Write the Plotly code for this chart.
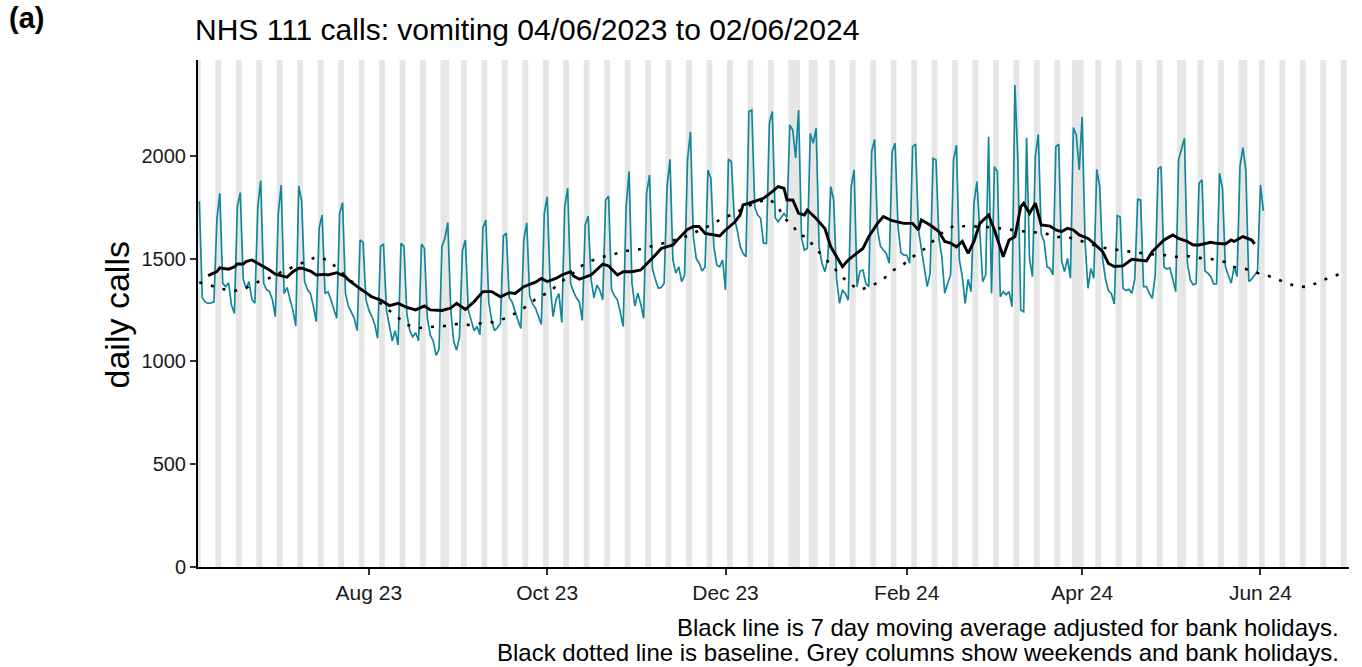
import plotly.graph_objects as go
import pandas as pd

start_date = "2023-06-04"

# Daily NHS 111 vomiting calls (first value Sun 04/06/2023, then rows Mon..Sun)
daily_calls = [1780,
    1310, 1290, 1283, 1285, 1290, 1690, 1818,
    1380, 1364, 1383, 1275, 1234, 1753, 1822,
    1400, 1356, 1389, 1300, 1283, 1753, 1880,
    1380, 1350, 1340, 1300, 1218, 1720, 1859,
    1330, 1360, 1300, 1250, 1173, 1854, 1780,
    1390, 1350, 1330, 1270, 1194, 1650, 1713,
    1330, 1340, 1300, 1260, 1210, 1720, 1773,
    1330, 1270, 1240, 1210, 1150, 1591, 1580,
    1300, 1250, 1220, 1180, 1113, 1560, 1572,
    1250, 1180, 1100, 1150, 1080, 1575, 1560,
    1230, 1150, 1120, 1140, 1100, 1572, 1550,
    1210, 1130, 1100, 1030, 1060, 1560, 1600,
    1676, 1250, 1100, 1055, 1120, 1540, 1591,
    1250, 1200, 1150, 1170, 1130, 1650, 1688,
    1290, 1200, 1150, 1165, 1186, 1611, 1624,
    1310, 1290, 1240, 1200, 1161, 1591, 1675,
    1320, 1280, 1260, 1220, 1180, 1721, 1802,
    1380, 1218, 1300, 1330, 1190, 1753, 1843,
    1380, 1340, 1310, 1290, 1200, 1664, 1708,
    1400, 1310, 1372, 1348, 1300, 1786, 1805,
    1350, 1320, 1300, 1240, 1170, 1750, 1924,
    1380, 1270, 1332, 1280, 1210, 1818, 1907,
    1450, 1400, 1356, 1360, 1380, 1851, 1984,
    1494, 1430, 1461, 1388, 1420, 1980, 2118,
    1607, 1500, 1478, 1440, 1460, 1932, 1891,
    1560, 1470, 1461, 1494, 1348, 1984, 1972,
    1700, 1640, 1560, 1526, 1510, 2216, 2224,
    1750, 1713, 1697, 1575, 1575, 2159, 2216,
    1700, 1680, 1700, 1720, 1700, 2151, 2126,
    1990, 2224, 1600, 1542, 1551, 2110, 2062,
    2135, 1560, 1478, 1437, 1500, 1851, 1786,
    1400, 1283, 1348, 1330, 1299, 1851, 1932,
    1364, 1440, 1445, 1380, 1364, 2021, 2081,
    1640, 1560, 1542, 1526, 1478, 2021, 2062,
    1656, 1530, 1518, 1518, 1478, 2045, 2058,
    1640, 1550, 1445, 1364, 1430, 1988, 1980,
    1600, 1510, 1332, 1380, 1421, 1980, 2053,
    1494, 1413, 1283, 1400, 1340, 1770, 1875,
    1600, 1388, 1421, 2094, 1332, 1948, 1924,
    1315, 1340, 1325, 1340, 1267, 2345, 1980,
    1250, 1242, 2089, 1500, 1413, 2000, 2105,
    1620, 1583, 1461, 1453, 1421, 2045, 2057,
    1486, 1437, 1502, 1405, 2138, 2102, 1932,
    2191, 1580, 1356, 1453, 1405, 1935, 1851,
    1500, 1400, 1345, 1330, 1280, 1710, 1703,
    1356, 1345, 1351, 1332, 1400, 1789, 1786,
    1364, 1364, 1332, 1307, 1420, 1937, 1948,
    1460, 1450, 1455, 1400, 1340, 1981, 2030,
    2086, 1478, 1397, 1373, 1380, 1867, 1884,
    1440, 1430, 1413, 1378, 1378, 1916, 1843,
    1462, 1420, 1381, 1462, 1413, 1950, 2040,
    1930, 1389, 1400, 1420, 1440, 1859, 1733,
]

# 7 day moving average (day offset from start, value)
ma_day = [3, 6, 7, 10, 12, 13, 15, 16, 18, 20, 22, 24, 26, 29, 30, 32, 34, 35, 38, 40,
          43, 44, 47, 50, 51, 54, 56, 59, 62, 65, 68, 71, 74, 77, 79, 83, 86, 88, 91, 94,
          97, 100, 103, 106, 108, 111, 115, 117, 119, 122, 124, 127, 128, 130, 134, 138, 140, 143, 145, 148,
          151, 154, 156, 158, 162, 164, 167, 169, 171, 173, 176, 178, 180, 183, 185, 186, 188, 191, 193, 196,
          198, 200, 201, 203, 205, 207, 208, 211, 214, 216, 219, 220, 222, 225, 227, 229, 232, 234, 237, 241,
          244, 246, 247, 250, 253, 255, 257, 259, 261, 263, 265, 267, 270, 272, 274, 275, 277, 279, 281, 282,
          284, 286, 288, 291, 293, 295, 297, 299, 301, 304, 306, 309, 311, 313, 316, 319, 321, 324, 326, 330,
          333, 335, 338, 340, 342, 346, 348, 351, 353, 354, 357, 359, 360, 361]
ma_calls = [1418, 1437, 1456, 1449, 1461, 1474, 1474, 1486, 1494, 1478, 1465, 1445, 1425, 1413, 1410, 1437, 1454, 1454, 1440, 1421,
            1424, 1421, 1432, 1413, 1397, 1364, 1344, 1315, 1299, 1272, 1283, 1263, 1251, 1270, 1251, 1248, 1260, 1283, 1253, 1291,
            1340, 1340, 1315, 1335, 1331, 1364, 1386, 1404, 1389, 1404, 1421, 1437, 1416, 1400, 1421, 1474, 1465, 1421, 1437, 1437,
            1445, 1486, 1518, 1550, 1567, 1599, 1643, 1657, 1657, 1623, 1616, 1611, 1640, 1676, 1713, 1762, 1770, 1786, 1794, 1827,
            1851, 1843, 1786, 1786, 1721, 1713, 1737, 1696, 1647, 1558, 1486, 1462, 1494, 1526, 1550, 1607, 1672, 1705, 1685, 1672,
            1672, 1640, 1689, 1664, 1632, 1584, 1576, 1558, 1584, 1526, 1584, 1672, 1713, 1640, 1550, 1510, 1591, 1607, 1753, 1770,
            1721, 1770, 1664, 1659, 1640, 1632, 1648, 1640, 1616, 1599, 1575, 1535, 1477, 1462, 1465, 1497, 1494, 1489, 1535, 1591,
            1616, 1599, 1584, 1567, 1567, 1580, 1575, 1572, 1591, 1584, 1608, 1599, 1591, 1572]

# Baseline (day offset from start, value)
base_day = [0, 3, 8, 12, 16, 20, 24, 28, 32, 36, 40, 44, 47, 51, 54, 57, 61, 64, 68, 71,
            75, 80, 84, 88, 92, 97, 101, 105, 109, 112, 116, 120, 123, 127, 130, 134, 138, 142, 146, 151,
            155, 159, 163, 167, 171, 175, 179, 183, 187, 191, 195, 198, 200, 203, 205, 208, 210, 213, 216, 219,
            222, 226, 230, 234, 237, 241, 244, 248, 251, 254, 258, 263, 267, 271, 276, 280, 284, 289, 293, 297,
            301, 305, 308, 312, 317, 321, 325, 330, 334, 338, 342, 346, 351, 354, 358, 362, 367, 371, 375, 379,
            383, 387, 390]
base_calls = [1385, 1372, 1353, 1343, 1358, 1387, 1406, 1435, 1460, 1484, 1509, 1494, 1455, 1400, 1365, 1333, 1294, 1260, 1212, 1178,
              1163, 1168, 1173, 1182, 1178, 1187, 1192, 1212, 1241, 1270, 1314, 1338, 1382, 1416, 1460, 1489, 1509, 1523, 1538, 1547,
              1562, 1577, 1592, 1611, 1636, 1664, 1698, 1718, 1752, 1776, 1791, 1752, 1698, 1664, 1616, 1606, 1562, 1518, 1470, 1431,
              1382, 1348, 1367, 1401, 1440, 1474, 1509, 1547, 1586, 1625, 1659, 1659, 1657, 1652, 1645, 1635, 1630, 1625, 1606, 1606,
              1590, 1572, 1557, 1547, 1538, 1528, 1522, 1518, 1509, 1513, 1504, 1499, 1484, 1460, 1450, 1431, 1411, 1387, 1367, 1362,
              1387, 1411, 1424]

bank_holidays = ["2023-08-28", "2023-12-25", "2023-12-26", "2024-01-01",
                 "2024-03-29", "2024-04-01", "2024-05-06", "2024-05-27"]

tick_dates = ["2023-08-01", "2023-10-01", "2023-12-01", "2024-02-01", "2024-04-01", "2024-06-01"]
tick_labels = ["Aug 23", "Oct 23", "Dec 23", "Feb 24", "Apr 24", "Jun 24"]
y_ticks = [0, 500, 1000, 1500, 2000]

x_start = "2023-06-03 13:00"
x_end = "2024-07-01 07:00"
y_max = 2467

# ---------------------------------------------------------------
t0 = pd.Timestamp(start_date)
dates = pd.date_range(t0, periods=len(daily_calls), freq="D")
ma_dates = [t0 + pd.Timedelta(days=d) for d in ma_day]
base_dates = [t0 + pd.Timedelta(days=d) for d in base_day]

# grey columns: weekends and bank holidays, merged into runs
bh = set(pd.to_datetime(bank_holidays))
all_days = pd.date_range("2023-06-03", "2024-07-01", freq="D")
grey = [d for d in all_days if d.weekday() >= 5 or d in bh]
runs = []
for d in grey:
    if runs and (d - runs[-1][1]).days == 1:
        runs[-1][1] = d
    else:
        runs.append([d, d])
half = pd.Timedelta(hours=12)
shapes = [dict(type="rect", xref="x", yref="paper", x0=a - half, x1=b + half, y0=0, y1=1,
               fillcolor="#e6e6e6", line=dict(width=0), layer="below") for a, b in runs]

fig = go.Figure()
fig.add_trace(go.Scatter(x=dates, y=daily_calls, mode="lines",
                         line=dict(color="#12879a", width=1.7), hoverinfo="x+y", name="daily"))
fig.add_trace(go.Scatter(x=base_dates, y=base_calls, mode="lines",
                         line=dict(color="black", width=2.6, dash="3px,9px"), name="baseline"))
fig.add_trace(go.Scatter(x=ma_dates, y=ma_calls, mode="lines",
                         line=dict(color="black", width=2.9), name="7 day MA"))

font_family = "Liberation Sans, Arial, sans-serif"
fig.update_layout(
    width=1362, height=667,
    margin=dict(l=198, r=13, t=60, b=100, pad=0),
    paper_bgcolor="white", plot_bgcolor="white",
    showlegend=False,
    shapes=shapes,
    font=dict(family=font_family, color="black"),
    xaxis=dict(type="date", range=[x_start, x_end], tickvals=tick_dates, ticktext=tick_labels,
               showgrid=False, zeroline=False, showline=True, linecolor="black", linewidth=2,
               ticks="outside", ticklen=6, tickwidth=1.5, tickcolor="#333333",
               tickfont=dict(size=21, color="#1a1a1a")),
    yaxis=dict(range=[0, y_max], tickvals=y_ticks, ticktext=[str(v) for v in y_ticks],
               showgrid=False, zeroline=False, showline=True, linecolor="black", linewidth=2,
               ticks="outside", ticklen=6, tickwidth=1.5, tickcolor="#333333",
               tickfont=dict(size=20, color="#1a1a1a")),
    annotations=[
        dict(text="<b>(a)</b>", xref="paper", yref="paper", x=-0.166, y=1.082,
             xanchor="left", yanchor="middle", showarrow=False, font=dict(size=29)),
        dict(text="NHS 111 calls: vomiting 04/06/2023 to 02/06/2024", xref="paper", yref="paper",
             x=-0.004, y=1.06, xanchor="left", yanchor="middle", showarrow=False, font=dict(size=30)),
        dict(text="daily calls", xref="paper", yref="paper", x=-0.07, y=0.497, textangle=-90,
             xanchor="center", yanchor="middle", showarrow=False, font=dict(size=34)),
        dict(text="Black line is 7 day moving average adjusted for bank holidays.", xref="paper",
             yref="paper", x=0.993, y=-0.119, xanchor="right", yanchor="middle", showarrow=False,
             font=dict(size=24)),
        dict(text="Black dotted line is baseline. Grey columns show weekends and bank holidays.",
             xref="paper", yref="paper", x=0.993, y=-0.168, xanchor="right", yanchor="middle",
             showarrow=False, font=dict(size=24)),
    ],
)

fig.write_html("out.html", config={"displayModeBar": False},
               post_script="document.body.style.margin='0';document.body.style.overflow='hidden';")
